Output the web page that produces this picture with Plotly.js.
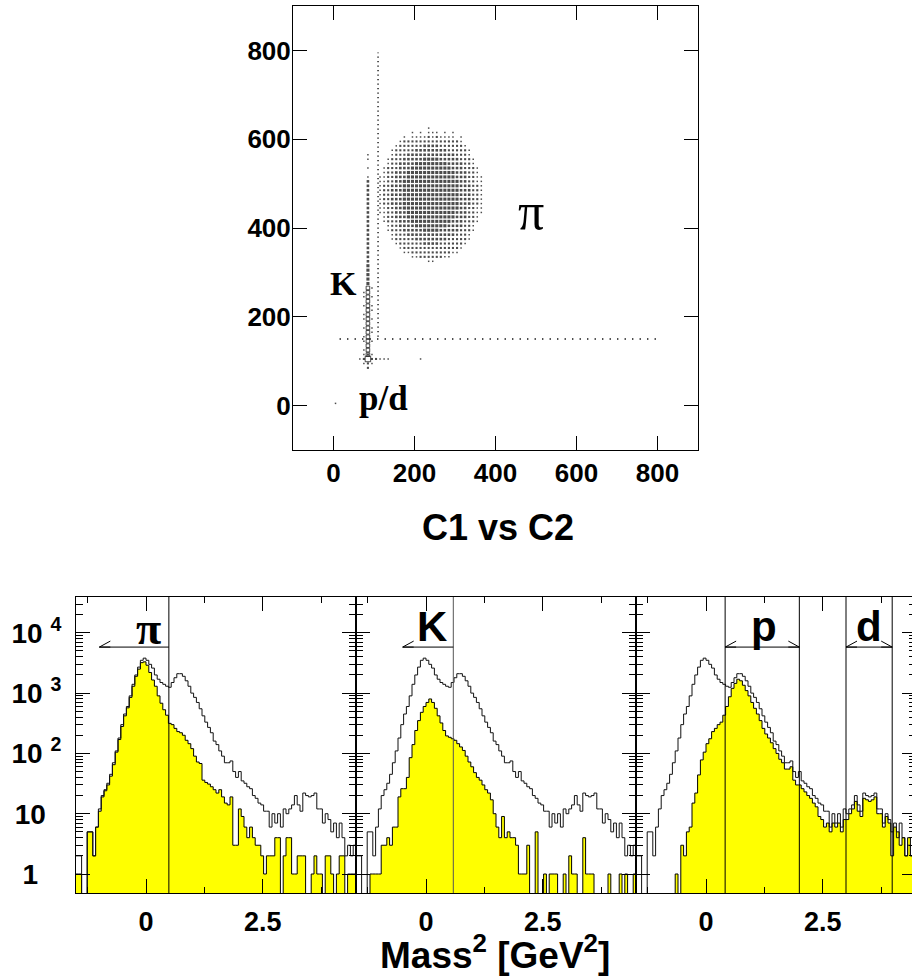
<!DOCTYPE html>
<html><head><meta charset="utf-8">
<script src="https://cdn.plot.ly/plotly-3.0.1.min.js"></script>
<style>html,body{margin:0;padding:0;overflow:hidden;background:#fff}#plot{width:920px;height:976px}</style>
</head><body><div id="plot"></div>
<script>
// ================= DATA =================
// --- Top: C1 vs C2 scatter (2D histogram, 10-unit bins; digit = box size level) ---
const blobFirstX = 115;          // x of first column
const blobRowY = [625,615,605,595,585,575,565,555,545,535,525,515,505,495,485,475,465,455,445,435,425,415,405,395,385,375,365,355,345,335,325];
const blobRows = [
"000000000000100000000000000",
"000000001010111010100000000",
"000000101111212111101000000",
"000001222222222222221000000",
"000012222223333222222100000",
"000122222333333332222210000",
"000122233333333333322210000",
"001222333334444333332221000",
"001223333444444443333221000",
"012223334444444444333222100",
"012233344444444444433322100",
"112233344444444444433322110",
"112233444444444444443322110",
"122333444444444444443332210",
"122333444444444444443332210",
"122333444444444444443332210",
"122333444444444444443332210",
"122333444444444444443332210",
"112233444444444444443322110",
"112233344444444444433322110",
"012233344444444444433322100",
"012223334444444444333222100",
"001223333444444443333221000",
"001222333334444333332221000",
"000122233333333333322210000",
"000122222333333332222210000",
"000012222223333222222100000",
"000001222222222222221000000",
"000000112222222222110000000",
"000000001122222211000000000",
"000000000000110000000000000"];
// K band columns (x, first y, levels along y in 10-unit bins; 5 = large hollow box)
const kColumnX = 85,  kColumnFirstY = 115, kColumnLevels = "5555555555555555444443333333333333333333101011";
const kLeftX = 75,    kLeftFirstY = 125,   kLeftLevels = "10110101101011";
const kRightX = 95,   kRightFirstY = 145,  kRightLevels = "1011010110101";
// p/d spot
const pdX = [85, 65, 75, 95, 105, 115, 125, 135, 75, 85, 95, 75, 85, 95, 85, 215, 5];
const pdY = [105,105,105,105,105, 105, 105, 105, 95, 95, 95, 115,115,115, 85, 105, 5];
const pdLevel = [6, 1, 2, 2, 2, 1, 1, 1, 1, 2, 1, 1, 2, 1, 2, 1, 1];
// dotted single-count bands
const vBandX = [110, 110], vBandY = [155, 795];
const hBandX = [15, 800],  hBandY = [150, 150];
const topXTicks = [0, 200, 400, 600, 800];
const topYTicks = [0, 200, 400, 600, 800];

// --- Bottom: Mass^2 histograms, 100 bins from -1.5 width 0.06 ---
const massBinLow = -1.5, massBinWidth = 0.06;
const allTracks = [2,2,0,0,5,5,2,6,12,20, 25,32,45,70,110,180,300,450,600,900,
 1400,2000,2700,3500,3800,3500,3000,2600,2000,1700, 1500,1400,1300,1250,1500,1800,2100,2100,1900,1600,
 1300,1000,850,700,550,420,330,270,220,160, 140,110,90,70,70,75,50,40,50,35,
 32,28,26,20,18,15,14,11,11,6, 10,7,10,6,12,10,12,14,20,14,
 11,22,20,19,20,22,12,12,7,10, 8,5,7,4,7,4,2,3,2,3];
const pionSel = [1,1,0,0,5,5,2,6,11,19, 24,30,42,65,105,170,280,420,570,850,
 1300,1900,2500,3200,3300,2900,2200,1650,1300,900, 680,530,430,315,300,260,230,220,200,165,
 145,120,90,72,68,36,33,31,28,25, 22,25,19,15,14,19,3,3,12,9,
 6,4,6,4,3,3,2,1,2,2, 2,4,4,0,2,4,4,1,1,2,
 2,2,0,0,1,2,1,1,0,2, 2,1,0,1,2,2,0,1,1,1];
const kaonSel = [0,0,0,0,0,1,1,1,1,3, 3,4,3,6,6,19,26,26,40,85,
 140,240,350,480,600,700,800,700,560,420, 320,240,195,185,175,165,145,128,112,90,
 72,60,48,40,36,30,25,22,17,10, 6,4,9,4,5,4,4,3,1,1,
 1,3,0,0,5,0,0,1,0,1, 1,1,0,0,1,0,2,1,1,0,
 0,4,1,1,1,0,0,0,0,0, 1,0,0,0,1,0,1,0,0,1];
const protonDeuteronSel = [0,0,0,0,0,0,0,0,0,0, 0,0,0,0,1,0,3,2,5,6,
 15,22,44,78,105,145,175,230,260,300, 330,430,600,870,1200,1450,1700,1600,1350,1100,
 900,700,560,450,350,260,210,180,150,120, 100,80,70,55,55,60,36,30,30,26,
 23,20,18,15,13,9,8,6,7,5, 7,6,7,5,8,8,10,12,16,11,
 9,18,17,16,17,19,10,10,6,9, 7,2,6,5,3,4,2,4,2,3];
const pionCut = 0.49, kaonCut = 0.585;
const protonWindow = [0.41, 2.0], deuteronWindow = [3.0, 3.99];
const pionArrowEnd = -1.0, kaonArrowEnd = -0.5;
const arrowLevel = 5800;
const massMajorTicks = [0, 2.5], massMajorText = ['0', '2.5'];
const massMinorTicks = [-1.25, 1.25, 3.75];
const countTicks = [1, 10, 100, 1000, 10000];
const countTickText = ['1\u00a0\u00a0\u00a0', '10\u00a0\u00a0', '10\u00a0<sup>2</sup>', '10\u00a0<sup>3</sup>', '10\u00a0<sup>4</sup>'];
const countMinorTicks = [2,3,4,5,6,7,8,9,20,30,40,50,60,70,80,90,200,300,400,500,600,700,800,900,2000,3000,4000,5000,6000,7000,8000,9000,20000,30000];

// ================= BUILD =================
const W = 920, H = 976;
const px = v => v / W, py = v => 1 - v / H;
const BOLD = 'Liberation Sans, Arial, sans-serif';
const SERIF = 'Liberation Serif, Times New Roman, serif';
const lvlSize = {1: 1.5, 2: 2.1, 3: 2.6, 4: 3.1, 5: 3.6, 6: 5.5};

const sx = [], sy = [], ss = [];
const hx = [], hy = [], hs = [];
function addCell(x, y, lvl) {
  if (lvl <= 0) return;
  if (lvl >= 5) { hx.push(x); hy.push(y); hs.push(lvlSize[lvl]); }
  else { sx.push(x); sy.push(y); ss.push(lvlSize[lvl]); }
}
blobRows.forEach((row, r) => {
  for (let c = 0; c < row.length; c++) addCell(blobFirstX + 10 * c, blobRowY[r], +row[c]);
});
function addColumn(x, y0, levels) {
  for (let i = 0; i < levels.length; i++) addCell(x, y0 + 10 * i, +levels[i]);
}
addColumn(kColumnX, kColumnFirstY, kColumnLevels);
addColumn(kLeftX, kLeftFirstY, kLeftLevels);
addColumn(kRightX, kRightFirstY, kRightLevels);
pdX.forEach((x, i) => addCell(x, pdY[i], pdLevel[i]));

const traces = [];
traces.push({type: 'scatter', mode: 'lines', x: vBandX, y: vBandY, xaxis: 'x', yaxis: 'y',
  line: {color: '#000', width: 1.3, dash: '1.3px,3.2px'}, hoverinfo: 'skip'});
traces.push({type: 'scatter', mode: 'lines', x: hBandX, y: hBandY, xaxis: 'x', yaxis: 'y',
  line: {color: '#000', width: 1.3, dash: '1.3px,6.2px'}, hoverinfo: 'skip'});
traces.push({type: 'scatter', mode: 'markers', x: sx, y: sy, xaxis: 'x', yaxis: 'y',
  marker: {symbol: 'square', size: ss, color: '#000', line: {width: 0}}, hoverinfo: 'skip'});
traces.push({type: 'scatter', mode: 'markers', x: hx, y: hy, xaxis: 'x', yaxis: 'y',
  marker: {symbol: 'square-open', size: hs, color: '#000', line: {width: 1}}, hoverinfo: 'skip'});

// histogram step helpers
function edges(n) { const e = []; for (let i = 0; i <= n; i++) e.push(massBinLow + massBinWidth * i); return e; }
function stepY(vals) { const v = vals.map(c => c > 0 ? c : 0.01); v.push(v[v.length - 1]); return v; }
const ex = edges(allTracks.length);
const panels = [
  {xa: 'x2', ya: 'y2', sel: pionSel},
  {xa: 'x3', ya: 'y3', sel: kaonSel},
  {xa: 'x4', ya: 'y4', sel: protonDeuteronSel}
];
panels.forEach(p => {
  traces.push({type: 'scatter', mode: 'lines', x: ex, y: stepY(p.sel), xaxis: p.xa, yaxis: p.ya,
    line: {shape: 'hv', color: '#000', width: 1}, fill: 'tozeroy', fillcolor: '#ffff00', hoverinfo: 'skip'});
  traces.push({type: 'scatter', mode: 'lines', x: ex, y: stepY(allTracks), xaxis: p.xa, yaxis: p.ya,
    line: {shape: 'hv', color: '#111', width: 1}, hoverinfo: 'skip'});
});

// ================= LAYOUT =================
const frame = {showline: true, linecolor: '#000', linewidth: 1, mirror: 'ticks', ticks: 'inside',
  tickcolor: '#000', tickwidth: 1, showgrid: false, zeroline: false, fixedrange: true};
const layout = {
  width: W, height: H, margin: {l: 0, r: 0, t: 0, b: 0}, showlegend: false,
  paper_bgcolor: '#fff', plot_bgcolor: '#fff',
  xaxis: Object.assign({}, frame, {domain: [px(293), px(698)], anchor: 'y', range: [-100, 900],
    tickmode: 'array', tickvals: topXTicks, ticklen: 14, tickfont: {family: BOLD, size: 26, weight: 'bold', color: '#000'}}),
  yaxis: Object.assign({}, frame, {domain: [py(450), py(6)], anchor: 'x', range: [-100, 900],
    tickmode: 'array', tickvals: topYTicks, ticklen: 14, ticklabelstandoff: -4, tickfont: {family: BOLD, size: 26, weight: 'bold', color: '#000'}}),
  shapes: [], annotations: []
};
const bx = [[76, 356], [356, 636], [636, 916]];
panels.forEach((p, i) => {
  const xk = 'xaxis' + (i + 2), yk = 'yaxis' + (i + 2);
  layout[xk] = Object.assign({}, frame, {domain: [px(bx[i][0]), px(bx[i][1])], anchor: p.ya, range: [massBinLow, 4.5],
    tickmode: 'array', tickvals: massMajorTicks, ticktext: massMajorText, ticklen: 14, ticklabelstandoff: 5,
    minor: {tickmode: 'array', tickvals: massMinorTicks, ticks: 'inside', ticklen: 6, tickcolor: '#000'},
    tickfont: {family: BOLD, size: 27, weight: 'bold', color: '#000'}});
  layout[yk] = Object.assign({}, frame, {domain: [py(893), py(597)], anchor: p.xa, type: 'log', range: [-0.315, 4.594],
    tickmode: 'array', tickvals: countTicks, ticktext: countTickText, ticklen: 14, showticklabels: i === 0, ticklabelstandoff: 8,
    minor: {tickmode: 'array', tickvals: countMinorTicks, ticks: 'inside', ticklen: 7, tickcolor: '#000'},
    tickfont: {family: BOLD, size: 28, weight: 'bold', color: '#000'}});
});

// cut lines & arrows
function vline(xa, ya, x, color) {
  layout.shapes.push({type: 'line', xref: xa, yref: ya + ' domain', x0: x, x1: x, y0: 0, y1: 1, line: {color: color, width: 1}});
}
function hline(xa, ya, x0, x1) {
  layout.shapes.push({type: 'line', xref: xa, yref: ya, x0: x0, x1: x1, y0: arrowLevel, y1: arrowLevel, line: {color: '#000', width: 1}});
}
function head(xa, ya, tip, dir) { // dir +1: points left (arms go right)
  [6, -6].forEach(d => layout.shapes.push({type: 'line', xref: xa, yref: ya, xsizemode: 'pixel', xanchor: tip,
    ysizemode: 'pixel', yanchor: arrowLevel, x0: 0, x1: 11 * dir, y0: 0, y1: d, line: {color: '#000', width: 1}}));
}
vline('x2', 'y2', pionCut, '#000'); hline('x2', 'y2', pionArrowEnd, pionCut); head('x2', 'y2', pionArrowEnd, 1);
vline('x3', 'y3', kaonCut, '#555'); hline('x3', 'y3', kaonArrowEnd, kaonCut); head('x3', 'y3', kaonArrowEnd, 1);
protonWindow.forEach(v => vline('x4', 'y4', v, '#000'));
deuteronWindow.forEach(v => vline('x4', 'y4', v, '#000'));
hline('x4', 'y4', protonWindow[0], protonWindow[1]); head('x4', 'y4', protonWindow[0], 1); head('x4', 'y4', protonWindow[1], -1);
hline('x4', 'y4', deuteronWindow[0], deuteronWindow[1]); head('x4', 'y4', deuteronWindow[0], 1); head('x4', 'y4', deuteronWindow[1], -1);

function ann(o) { layout.annotations.push(Object.assign({showarrow: false, xanchor: 'center', yanchor: 'middle'}, o)); }
ann({text: 'π', xref: 'x2', yref: 'y2 domain', x: 0.06, y: 0.895, font: {family: SERIF, size: 46, weight: 'bold', color: '#000'}});
ann({text: 'K', xref: 'x3', yref: 'y3 domain', x: 0.13, y: 0.899, font: {family: BOLD, size: 42, weight: 'bold', color: '#000'}});
ann({text: 'p', xref: 'x4', yref: 'y4 domain', x: 1.25, y: 0.899, font: {family: BOLD, size: 42, weight: 'bold', color: '#000'}});
ann({text: 'd', xref: 'x4', yref: 'y4 domain', x: 3.5, y: 0.899, font: {family: BOLD, size: 42, weight: 'bold', color: '#000'}});
ann({text: 'π', xref: 'x', yref: 'y', x: 487, y: 437, font: {family: SERIF, size: 52, color: '#000'}});
ann({text: 'K', xref: 'x', yref: 'y', x: 25, y: 275, font: {family: SERIF, size: 34, weight: 'bold', color: '#000'}});
ann({text: 'p/d', xref: 'x', yref: 'y', x: 123, y: 15, font: {family: SERIF, size: 35, weight: 'bold', color: '#000'}});
ann({text: 'C1 vs C2', xref: 'paper', yref: 'paper', x: px(498), y: py(527), font: {family: BOLD, size: 36, weight: 'bold', color: '#000'}});
ann({text: 'Mass<sup>2</sup> [GeV<sup>2</sup>]', xref: 'paper', yref: 'paper', x: px(495), y: py(952), font: {family: BOLD, size: 37, weight: 'bold', color: '#000'}});

Plotly.newPlot('plot', traces, layout, {staticPlot: true, displayModeBar: false});
</script></body></html>
